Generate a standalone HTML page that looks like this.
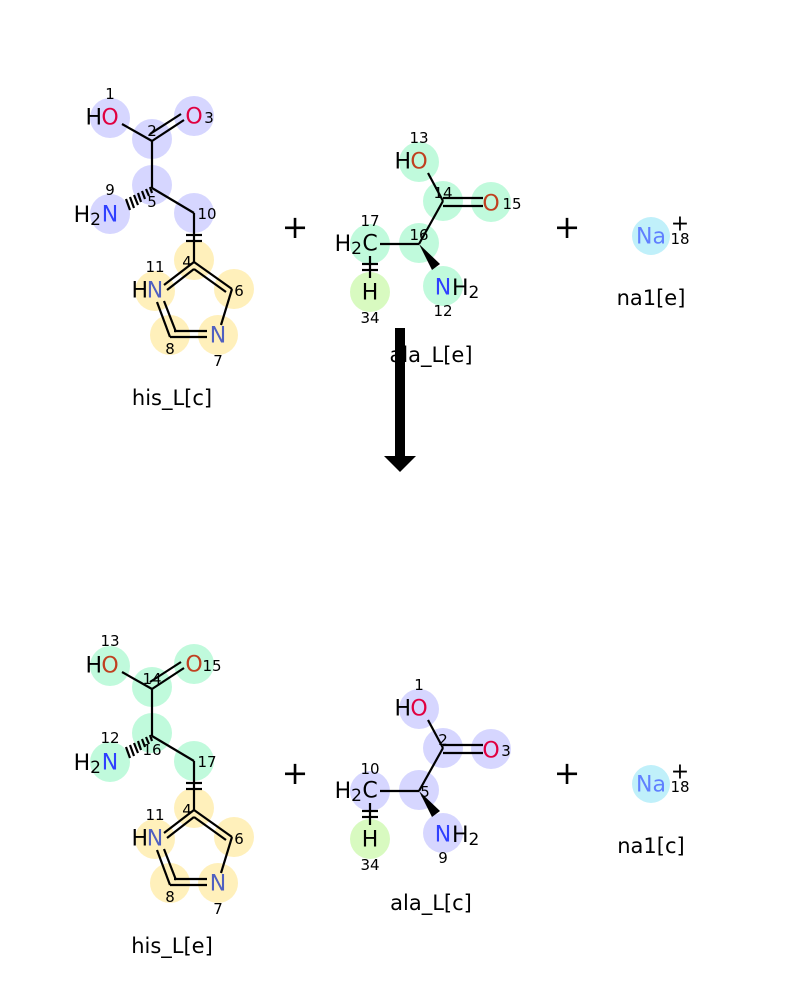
<!DOCTYPE html>
<html><head><meta charset="utf-8"><style>
html,body{margin:0;padding:0;background:#fff;}
svg{display:block;font-family:"DejaVu Sans","Liberation Sans",sans-serif;}
.n{font-size:15px;text-anchor:middle;fill:#000;}
.a{font-size:22px;text-anchor:middle;dominant-baseline:central;}
.e{font-size:22px;text-anchor:end;dominant-baseline:central;fill:#000;}
.s{font-size:22px;text-anchor:start;dominant-baseline:central;fill:#000;}
.t{font-size:21px;text-anchor:middle;fill:#000;}
.p{font-size:32px;text-anchor:middle;fill:#000;}
line{stroke:#000;stroke-width:2.2;}
</style></head><body>
<svg width="800" height="1000" viewBox="0 0 800 1000">
<defs>
<g id="ring">
 <g fill="#fff0bb">
  <circle cx="194" cy="260" r="20"/><circle cx="155" cy="291" r="20"/>
  <circle cx="234" cy="289" r="20"/><circle cx="218" cy="335" r="20"/>
  <circle cx="170" cy="335" r="20"/>
 </g>
 <line x1="194" y1="213" x2="194" y2="262"/>
 <line x1="186" y1="235" x2="202" y2="235"/><line x1="186" y1="241" x2="202" y2="241"/>
 <line x1="194" y1="262" x2="164" y2="285"/><line x1="194" y1="269" x2="167" y2="290"/>
 <line x1="194" y1="262" x2="232" y2="289"/><line x1="194" y1="269" x2="226" y2="292"/>
 <line x1="232" y1="289" x2="221" y2="325"/>
 <line x1="157" y1="302" x2="170" y2="337"/><line x1="164" y1="301" x2="176" y2="332"/>
 <line x1="170" y1="337" x2="207" y2="337"/><line x1="174" y1="331" x2="207" y2="331"/>
 <text class="a" x="155" y="291" fill="#5060c0">N</text><text class="e" x="148" y="291">H</text>
 <text class="a" x="218" y="336" fill="#5060c0">N</text>
</g>
<g id="chain">
 <line x1="122" y1="124" x2="152" y2="141"/>
 <line x1="152" y1="141" x2="184" y2="120"/><line x1="150" y1="134" x2="181" y2="114"/>
 <line x1="152" y1="141" x2="152" y2="188"/>
 <line x1="152" y1="188" x2="194" y2="213"/>
 <g stroke-width="1.6"><line x1="150" y1="187" x2="152" y2="193"/><line x1="146" y1="189" x2="149" y2="196"/><line x1="142" y1="191" x2="145" y2="199"/><line x1="138" y1="193" x2="141" y2="202"/><line x1="134" y1="195" x2="138" y2="205"/><line x1="130" y1="197" x2="134" y2="208"/><line x1="126" y1="199" x2="130" y2="210"/></g>
 <text class="e" x="102" y="118">H</text>
 <text class="e" x="101" y="215"><tspan>H</tspan><tspan font-size="17" dy="5">2</tspan></text>
 <text class="a" x="110" y="215" fill="#3040ff">N</text>
</g>
<g id="ala">
 <line x1="428" y1="173" x2="443" y2="201"/>
 <line x1="443" y1="198" x2="483" y2="198"/><line x1="443" y1="206" x2="483" y2="206"/>
 <line x1="443" y1="201" x2="419" y2="244"/>
 <line x1="380" y1="244" x2="419" y2="244"/>
 <polygon points="419,244 432,270 440,264" fill="#000"/>
 <line x1="370" y1="256" x2="370" y2="278"/>
 <line x1="362" y1="264" x2="378" y2="264"/><line x1="362" y1="270" x2="378" y2="270"/>
 <text class="a" x="370" y="244" fill="#000">C</text>
 <text class="e" x="362" y="244"><tspan>H</tspan><tspan font-size="17" dy="5">2</tspan></text>
 <text class="a" x="370" y="293" fill="#000">H</text>
 <text class="a" x="443" y="288" fill="#3040ff">N</text>
 <text class="s" x="452" y="288"><tspan>H</tspan><tspan font-size="17" dy="5">2</tspan></text>
 <text class="e" x="411" y="162">H</text>
</g>
</defs>

<!-- TOP -->
<g fill="#d6d6ff">
 <circle cx="110" cy="118" r="20"/><circle cx="194" cy="116" r="20"/>
 <circle cx="152" cy="139" r="20"/><circle cx="152" cy="185" r="20"/>
 <circle cx="110" cy="214" r="20"/><circle cx="194" cy="213" r="20"/>
</g>
<use href="#ring"/><use href="#chain"/>
<text class="a" x="110" y="118" fill="#e00040">O</text>
<text class="a" x="194" y="117" fill="#e00040">O</text>
<text class="n" x="110" y="99">1</text><text class="n" x="152" y="136">2</text><text class="n" x="209" y="123">3</text>
<text class="n" x="152" y="207">5</text><text class="n" x="110" y="195">9</text><text class="n" x="207" y="219">10</text>
<text class="n" x="187" y="267">4</text><text class="n" x="155" y="272">11</text><text class="n" x="239" y="296">6</text>
<text class="n" x="218" y="366">7</text><text class="n" x="170" y="354">8</text>
<text class="t" x="172" y="405">his_L[c]</text>

<g fill="#c0fadc">
 <circle cx="419" cy="162" r="20"/><circle cx="443" cy="201" r="20"/>
 <circle cx="491" cy="202" r="20"/><circle cx="419" cy="243" r="20"/>
 <circle cx="370" cy="244" r="20"/><circle cx="443" cy="286" r="20"/>
</g>
<circle cx="370" cy="292" r="20" fill="#d8fac0"/>
<use href="#ala"/>
<text class="a" x="419" y="162" fill="#c04020">O</text>
<text class="a" x="491" y="204" fill="#c04020">O</text>
<text class="n" x="419" y="143">13</text><text class="n" x="443" y="198">14</text><text class="n" x="512" y="209">15</text>
<text class="n" x="419" y="240">16</text><text class="n" x="370" y="226">17</text><text class="n" x="370" y="323">34</text><text class="n" x="443" y="316">12</text>
<text class="t" x="431" y="362">ala_L[e]</text>

<circle cx="651" cy="236" r="19" fill="#c0f0fa"/>
<text class="a" x="651" y="237" fill="#6080ff">Na</text>
<text class="a" x="680" y="224" fill="#000" font-size="21">+</text>
<text class="n" x="680" y="244">18</text>
<text class="t" x="651" y="305">na1[e]</text>

<text class="p" x="295" y="238">+</text><text class="p" x="567" y="238">+</text>

<rect x="395" y="328" width="10" height="130" fill="#000"/>
<polygon points="384,456 416,456 400,472" fill="#000"/>

<!-- BOTTOM -->
<g transform="translate(0,548)">
 <g fill="#c0fadc">
  <circle cx="110" cy="118" r="20"/><circle cx="194" cy="116" r="20"/>
  <circle cx="152" cy="139" r="20"/><circle cx="152" cy="185" r="20"/>
  <circle cx="110" cy="214" r="20"/><circle cx="194" cy="213" r="20"/>
 </g>
 <use href="#ring"/><use href="#chain"/>
 <text class="a" x="110" y="118" fill="#c04020">O</text>
 <text class="a" x="194" y="117" fill="#c04020">O</text>
</g>
<text class="n" x="110" y="646">13</text><text class="n" x="152" y="684">14</text><text class="n" x="212" y="671">15</text>
<text class="n" x="152" y="755">16</text><text class="n" x="110" y="743">12</text><text class="n" x="207" y="767">17</text>
<text class="n" x="187" y="815">4</text><text class="n" x="155" y="820">11</text><text class="n" x="239" y="844">6</text>
<text class="n" x="218" y="914">7</text><text class="n" x="170" y="902">8</text>
<text class="t" x="172" y="953">his_L[e]</text>

<g transform="translate(0,547)">
 <g fill="#d6d6ff">
  <circle cx="419" cy="162" r="20"/><circle cx="443" cy="201" r="20"/>
  <circle cx="491" cy="202" r="20"/><circle cx="419" cy="243" r="20"/>
  <circle cx="370" cy="244" r="20"/><circle cx="443" cy="286" r="20"/>
 </g>
 <circle cx="370" cy="292" r="20" fill="#d8fac0"/>
 <use href="#ala"/>
 <text class="a" x="419" y="162" fill="#e00040">O</text>
 <text class="a" x="491" y="204" fill="#e00040">O</text>
</g>
<text class="n" x="419" y="690">1</text><text class="n" x="443" y="745">2</text><text class="n" x="506" y="756">3</text>
<text class="n" x="425" y="797">5</text><text class="n" x="370" y="774">10</text><text class="n" x="370" y="870">34</text><text class="n" x="443" y="863">9</text>
<text class="t" x="431" y="910">ala_L[c]</text>

<circle cx="651" cy="784" r="19" fill="#c0f0fa"/>
<text class="a" x="651" y="785" fill="#6080ff">Na</text>
<text class="a" x="680" y="772" fill="#000" font-size="21">+</text>
<text class="n" x="680" y="792">18</text>
<text class="t" x="651" y="853">na1[c]</text>

<text class="p" x="295" y="784">+</text><text class="p" x="567" y="784">+</text>
</svg>
</body></html>
